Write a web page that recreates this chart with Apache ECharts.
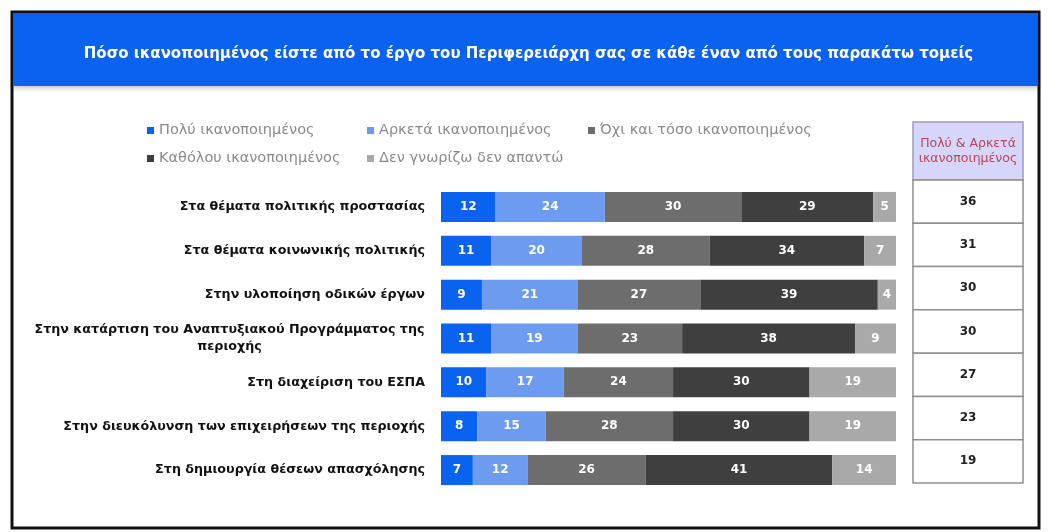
<!DOCTYPE html>
<html><head><meta charset="utf-8">
<script src="https://cdn.jsdelivr.net/npm/echarts@6/dist/echarts.min.js"></script>
<style>html,body{margin:0;padding:0;background:#fff}#c{width:1057px;height:532px}</style>
</head><body><div id="c"></div>
<script>
const titleText = 'Πόσο ικανοποιημένος είστε από το έργο του Περιφερειάρχη σας σε κάθε έναν από τους παρακάτω τομείς';
const categories = [
  'Στα θέματα πολιτικής προστασίας',
  'Στα θέματα κοινωνικής πολιτικής',
  'Στην υλοποίηση οδικών έργων',
  'Στην κατάρτιση του Αναπτυξιακού Προγράμματος της\nπεριοχής',
  'Στη διαχείριση του ΕΣΠΑ',
  'Στην διευκόλυνση των επιχειρήσεων της περιοχής',
  'Στη δημιουργία θέσεων απασχόλησης'
];
const seriesNames = ['Πολύ ικανοποιημένος','Αρκετά ικανοποιημένος','Όχι και τόσο ικανοποιημένος','Καθόλου ικανοποιημένος','Δεν γνωρίζω δεν απαντώ'];
const veryValues   = [12, 11, 9, 11, 10, 8, 7];
const fairlyValues = [24, 20, 21, 19, 17, 15, 12];
const notSoValues  = [30, 28, 27, 23, 24, 28, 26];
const notAtAllValues = [29, 34, 39, 38, 30, 30, 41];
const dkValues     = [5, 7, 4, 9, 19, 19, 14];
const totals       = [36, 31, 30, 30, 27, 23, 19];
const tableHeader  = 'Πολύ & Αρκετά\nικανοποιημένος';

const colors = ['#0a63ef', '#6c9bef', '#6d6d6d', '#3f3f3f', '#a9a9a9'];
const FONT = 'DejaVu Sans';
const seriesData = [veryValues, fairlyValues, notSoValues, notAtAllValues, dkValues];
// legend slot positions (layout only)
const legendPos = [[142, 118], [362, 118], [583, 118], [142, 146], [362, 146]];

const chart = echarts.init(document.getElementById('c'), null, {renderer: 'canvas'});

const barSeries = seriesNames.map((n, i) => ({
  name: n, type: 'bar', stack: 'all', xAxisIndex: 0, yAxisIndex: 0,
  data: seriesData[i], barWidth: 30,
  itemStyle: {color: colors[i]},
  label: {show: true, position: 'inside', color: '#fff', fontWeight: 'bold', fontSize: 12, fontFamily: FONT},
  emphasis: {disabled: true}
}));

const tableSeries = {
  type: 'custom', xAxisIndex: 1, yAxisIndex: 1,
  data: categories.map((c, i) => [c, totals[i]]),
  encode: {y: 0},
  renderItem: (params, api) => {
    const idx = api.value(0);
    const p0 = api.coord([0, idx]);
    const p1 = api.coord([1, idx]);
    const h = api.size([0, 1])[1];
    return {
      type: 'group',
      children: [
        {type: 'rect', shape: {x: p0[0], y: p0[1] - h / 2, width: p1[0] - p0[0], height: h},
         style: {fill: '#fff', stroke: '#8f8f8f', lineWidth: 1.5}},
        {type: 'text', style: {text: String(api.value(1)), x: (p0[0] + p1[0]) / 2, y: p0[1],
          align: 'center', verticalAlign: 'middle', fill: '#222', font: 'bold 12px ' + FONT}}
      ]
    };
  }
};

const legends = seriesNames.map((n, i) => ({
  data: [n], left: legendPos[i][0], top: legendPos[i][1], icon: 'rect', itemWidth: 7, itemHeight: 7,
  textStyle: {color: '#8a8a8a', fontSize: 14.5, fontFamily: FONT}, selectedMode: false
}));

const option = {
  backgroundColor: '#fff',
  animation: false,
  textStyle: {fontFamily: FONT},
  graphic: [
    {type: 'rect', shape: {x: 12, y: 12, width: 1027, height: 516}, style: {fill: '#fff', stroke: '#111', lineWidth: 3}, z: -10},
    {type: 'rect', shape: {x: 13, y: 13, width: 1025, height: 73}, style: {fill: '#0b62f1', shadowBlur: 5, shadowColor: 'rgba(0,0,0,0.25)', shadowOffsetY: 2}, z: -5},
    {type: 'rect', shape: {x: 913, y: 122, width: 110, height: 58}, style: {fill: '#d6d6fb', stroke: '#9a9ac0', lineWidth: 1.5}},
    {type: 'text', style: {text: tableHeader, x: 968, y: 151, align: 'center', verticalAlign: 'middle', fill: '#bb4458', font: '12.5px ' + FONT, lineHeight: 15}}
  ],
  title: {
    text: titleText, left: 'center', top: 42,
    textStyle: {color: '#fff', fontSize: 15, fontWeight: 'bold', fontFamily: FONT}
  },
  legend: legends,
  grid: [
    {left: 441, right: 161, top: 185, bottom: 40, containLabel: false},
    {left: 913, right: 34, top: 180, bottom: 49, containLabel: false}
  ],
  xAxis: [
    {type: 'value', gridIndex: 0, min: 0, max: 100, show: false},
    {type: 'value', gridIndex: 1, min: 0, max: 1, show: false}
  ],
  yAxis: [
    {type: 'category', gridIndex: 0, data: categories, inverse: true,
     axisLine: {show: false}, axisTick: {show: false}, splitLine: {show: false},
     axisLabel: {margin: 16, color: '#111', fontWeight: 'bold', fontSize: 12.7, fontFamily: FONT, lineHeight: 17,
       formatter: v => v.indexOf('\n') >= 0 ? '{w|' + v + '}' : v,
       rich: {w: {width: 391, align: 'center', fontWeight: 'bold', fontSize: 12.7, fontFamily: FONT, color: '#111', lineHeight: 17}}}},
    {type: 'category', gridIndex: 1, data: categories, inverse: true, show: false}
  ],
  series: [...barSeries, tableSeries]
};
chart.setOption(option);
</script>
</body></html>
